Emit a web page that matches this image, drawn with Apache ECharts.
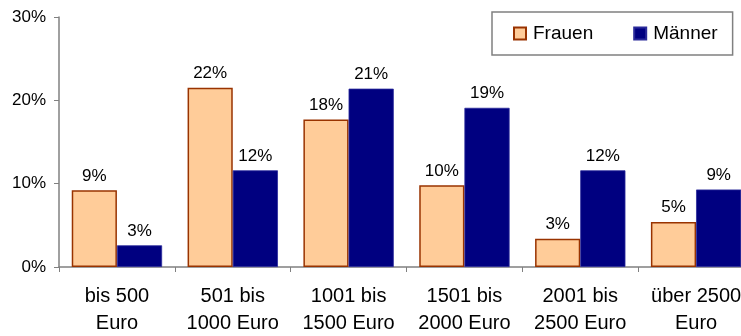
<!DOCTYPE html>
<html>
<head>
<meta charset="utf-8">
<script src="https://cdn.jsdelivr.net/npm/echarts@6/dist/echarts.min.js"></script>
<style>
  html, body { margin: 0; padding: 0; background: #fff; }
  #chart { width: 741px; height: 336px; }
</style>
</head>
<body>
<div id="chart"></div>
<script>
// Monthly net income brackets
const categories = [
  'bis 500\nEuro',
  '501 bis\n1000 Euro',
  '1001 bis\n1500 Euro',
  '1501 bis\n2000 Euro',
  '2001 bis\n2500 Euro',
  'über 2500\nEuro'
];
// Share of respondents per bracket, in percent
const frauen = [9.2, 21.5, 17.7, 9.8, 3.4, 5.4];
const maenner = [2.6, 11.6, 21.4, 19.1, 11.6, 9.3];
const yTicks = { min: 0, max: 30, interval: 10 };

const FONT = '"Liberation Sans", Arial, sans-serif';

const chart = echarts.init(document.getElementById('chart'), null, { renderer: 'canvas' });

const labelStyle = {
  show: true,
  position: 'top',
  distance: 6,
  color: '#000',
  fontFamily: FONT,
  fontSize: 17,
  formatter: p => Math.round(p.value) + '%'
};

chart.setOption({
  animation: false,
  backgroundColor: '#fff',
  textStyle: { fontFamily: FONT },
  grid: {
    left: 59, top: 17, bottom: 69, right: -13,
    containLabel: false,
    outerBoundsMode: 'none'
  },
  legend: {
    left: 492,
    top: 12,
    width: 242,
    height: 45,
    orient: 'horizontal',
    padding: [12, 15, 12, 21],
    itemGap: 40,
    itemWidth: 12,
    itemHeight: 12,
    borderColor: '#808080',
    borderWidth: 1.5,
    backgroundColor: '#fff',
    textStyle: { fontFamily: FONT, fontSize: 19, color: '#000', padding: [0, 0, 0, 2] },
    data: [
      { name: 'Frauen', icon: 'rect' },
      { name: 'Männer', icon: 'rect' }
    ]
  },
  xAxis: {
    type: 'category',
    data: categories,
    axisLine: { lineStyle: { color: '#808080', width: 1.5 } },
    axisTick: { show: true, length: 5, alignWithLabel: false, lineStyle: { color: '#808080' } },
    axisLabel: {
      color: '#000',
      fontFamily: FONT,
      fontSize: 20,
      lineHeight: 27,
      margin: 16,
      interval: 0
    },
    splitLine: { show: false }
  },
  yAxis: {
    type: 'value',
    min: yTicks.min,
    max: yTicks.max,
    interval: yTicks.interval,
    axisLine: { show: true, lineStyle: { color: '#808080', width: 1.5 } },
    axisTick: { show: true, length: 5, lineStyle: { color: '#808080' } },
    axisLabel: {
      color: '#000',
      fontFamily: FONT,
      fontSize: 17,
      margin: 13,
      formatter: '{value}%'
    },
    splitLine: { show: false }
  },
  series: [
    {
      name: 'Frauen',
      type: 'bar',
      data: frauen,
      barGap: '0%',
      barCategoryGap: '22%',
      itemStyle: { color: '#FFCC99', borderColor: '#993300', borderWidth: 1.5 },
      label: labelStyle
    },
    {
      name: 'Männer',
      type: 'bar',
      data: maenner,
      barGap: '0%',
      barCategoryGap: '22%',
      itemStyle: { color: '#000080', borderColor: '#2a2a9a', borderWidth: 0.8 },
      label: labelStyle
    }
  ]
});
</script>
</body>
</html>
